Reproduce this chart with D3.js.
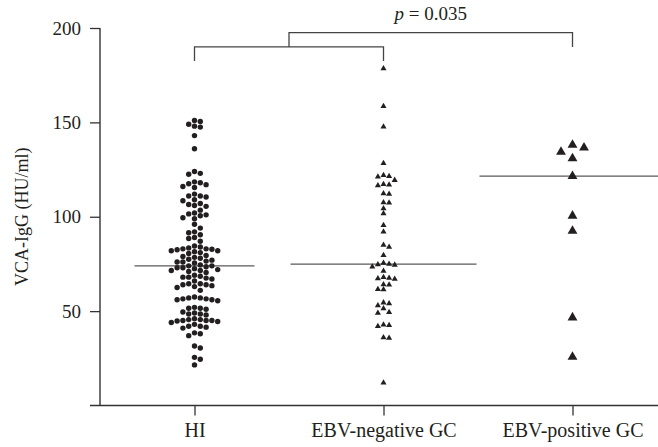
<!DOCTYPE html>
<html>
<head>
<meta charset="utf-8">
<script src="https://cdn.jsdelivr.net/npm/d3@7"></script>
<style>
  body { margin: 0; background: #fff; }
  svg text { font-family: "Liberation Serif", "Times New Roman", serif; fill: #231f20; }
</style>
</head>
<body>
<div id="scatter"></div>
<script>
// groups and values
var groups = ["HI", "EBV-negative GC", "EBV-positive GC"];

var hiValues = [151, 150.5, 149, 148, 147.5, 143, 136,
  124, 123, 122.5, 118.5, 118, 117.5, 117, 116, 115.5,
  112, 111, 111, 110.5, 109, 108.5, 107, 106.5, 106, 105.5,
  103.5, 102, 101.5, 101, 100.5, 99.5, 99, 96, 94, 92, 91.5, 90.5,
  89, 88.5, 87, 84.5, 84, 83.5, 83, 83, 82.8, 82.5, 82, 82, 81.5, 81, 80.5,
  79.5, 79, 78.5, 78, 77.5, 77, 76.5, 76, 76, 75.5,
  74.5, 74, 74, 73.5, 73, 73, 72.5, 72, 71.5, 71.5, 71, 70.5,
  69, 68.5, 68, 68, 67.5, 67, 66,
  64.5, 64.5, 64, 64, 63.5, 63, 62.5, 61,
  57.5, 57, 57, 56.5, 56.5, 56, 56, 55.5,
  52, 51.5, 51.5, 51,
  49.5, 49, 48.5, 48.5, 48, 46, 45.5, 45.5, 45, 45, 45, 44.8, 44.5, 44,
  43, 42, 42, 41.5, 41, 38.5, 38, 37, 31.5, 30.5, 25.5, 24.5, 21.5];

var negValues = [178.6, 158.6, 147.7, 128.3, 122, 121.2, 121.5, 119.4,
  117, 116.5, 117.2, 112.3, 112, 107.4, 107.6, 104.4, 101.7, 95.5, 92,
  85, 84, 79.6, 75, 74.7, 74.5, 75.5, 73.5, 71.2, 67.5, 67.3, 67, 68,
  64.1, 64, 61.6, 61.4, 54.5, 54, 53, 51.4, 49.4, 49, 42.5, 42, 42.8,
  35.8, 36, 12.1];

var posValues = [138, 136.6, 134.4, 130.9, 121.5, 100.5, 92.5, 46.6, 25.7];

var yTicks = [50, 100, 150, 200];
var pLabel = "0.035";
// bracket levels in data units
var bracketLow = 182.5, bracketMid = 190, bracketTop = 197.5;

var margin = {top: 28, left: 100};
var width = 567;
var height = 377.5;

var svg = d3.select("#scatter").append("svg")
    .attr("width", 658)
    .attr("height", 447)
    .append("g")
    .attr("transform", "translate(" + margin.left + "," + margin.top + ")");

var x = d3.scalePoint().domain(groups).range([0, width]).padding(0.5);
var y = d3.scaleLinear().domain([0, 200]).range([height, 0]);

// simple swarm: stack points sideways when they would overlap
function swarm(values, dx, dy) {
  var placed = [];
  values.slice().sort(function (a, b) { return b - a; }).forEach(function (v) {
    var py = y(v);
    var off = 0;
    for (var i = 0; i < 100; i++) {
      off = (i % 2 === 1 ? 1 : -1) * Math.ceil(i / 2) * dx;
      var hit = placed.some(function (p) {
        return Math.abs(p.dx - off) < dx * 0.99 && Math.abs(p.py - py) < dy;
      });
      if (!hit) break;
    }
    placed.push({v: v, dx: off, py: py});
  });
  return placed;
}

// median lines
var medianHalf = [60, 93, 93];
[hiValues, negValues, posValues].forEach(function (vals, i) {
  var m = d3.median(vals);
  svg.append("line")
      .attr("x1", x(groups[i]) - medianHalf[i])
      .attr("x2", x(groups[i]) + medianHalf[i])
      .attr("y1", y(m))
      .attr("y2", y(m))
      .attr("stroke", "#5a5a5a")
      .attr("stroke-width", 1.3);
});

// HI dots
svg.selectAll(".hi")
    .data(swarm(hiValues, 5.8, 5.4))
    .enter().append("circle")
    .attr("class", "hi")
    .attr("cx", function (d) { return x(groups[0]) + d.dx; })
    .attr("cy", function (d) { return y(d.v); })
    .attr("r", 2.7)
    .attr("fill", "#231f20");

// EBV-negative triangles
svg.selectAll(".neg")
    .data(swarm(negValues, 5.6, 5))
    .enter().append("path")
    .attr("class", "neg")
    .attr("d", d3.symbol().type(d3.symbolTriangle).size(16))
    .attr("transform", function (d) {
      return "translate(" + (x(groups[1]) + d.dx) + "," + y(d.v) + ")";
    })
    .attr("fill", "#231f20");

// EBV-positive triangles
svg.selectAll(".pos")
    .data(swarm(posValues, 11.5, 9))
    .enter().append("path")
    .attr("class", "pos")
    .attr("d", d3.symbol().type(d3.symbolTriangle).size(42))
    .attr("transform", function (d) {
      return "translate(" + (x(groups[2]) + d.dx) + "," + y(d.v) + ")";
    })
    .attr("fill", "#231f20");

// axes
var yAxis = svg.append("g")
    .call(d3.axisLeft(y).tickValues(yTicks).tickSize(10).tickPadding(9).tickSizeOuter(0));
yAxis.select(".domain").remove();
yAxis.selectAll("line").attr("stroke", "#333").attr("stroke-width", 1.3);
yAxis.selectAll("text").style("font-size", "19px").attr("font-family", null);

svg.append("line")
    .attr("x1", 0).attr("x2", 0)
    .attr("y1", y(200)).attr("y2", y(0))
    .attr("stroke", "#333").attr("stroke-width", 1.4);

var xAxis = svg.append("g")
    .attr("transform", "translate(0," + height + ")")
    .call(d3.axisBottom(x).tickSize(10).tickPadding(7).tickSizeOuter(0));
xAxis.select(".domain").remove();
xAxis.selectAll("line").attr("stroke", "#333").attr("stroke-width", 1.3);
xAxis.selectAll("text").style("font-size", "20px").attr("font-family", null);

svg.append("line")
    .attr("x1", -10).attr("x2", 558)
    .attr("y1", height).attr("y2", height)
    .attr("stroke", "#333").attr("stroke-width", 1.4);

svg.append("text")
    .attr("transform", "translate(" + (28 - margin.left) + "," + (height / 2) + ") rotate(-90)")
    .style("text-anchor", "middle")
    .style("font-size", "18px")
    .text("VCA-IgG (HU/ml)");

// significance bracket
var xa = x(groups[0]), xb = x(groups[1]), xc = x(groups[2]);
var xm = (xa + xb) / 2;
var bracket = d3.line();
svg.append("path")
    .attr("d", bracket([[xa, y(bracketLow)], [xa, y(bracketMid)], [xb, y(bracketMid)], [xb, y(bracketLow)]]))
    .attr("fill", "none").attr("stroke", "#444").attr("stroke-width", 1.3);
svg.append("path")
    .attr("d", bracket([[xm, y(bracketMid)], [xm, y(bracketTop)], [xc, y(bracketTop)], [xc, y(bracketMid)]]))
    .attr("fill", "none").attr("stroke", "#444").attr("stroke-width", 1.3);

var pText = svg.append("text")
    .attr("x", (xm + xc) / 2)
    .attr("y", y(bracketTop) - 13)
    .style("text-anchor", "middle")
    .style("font-size", "19px");
pText.append("tspan").style("font-style", "italic").text("p");
pText.append("tspan").text(" = " + pLabel);
</script>
</body>
</html>
